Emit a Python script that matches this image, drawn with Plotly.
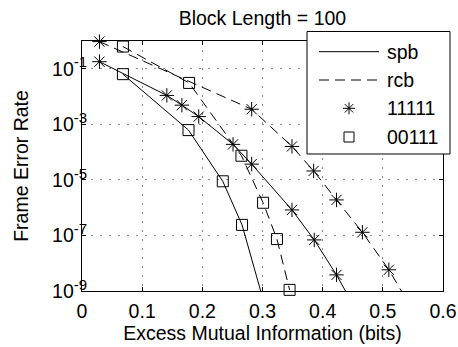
import plotly.graph_objects as go

# Data (x = excess mutual information in bits, y = frame error rate)
spb_11111_x = [0.029, 0.141, 0.166, 0.194, 0.251, 0.282, 0.349, 0.386, 0.423, 0.46]
spb_11111_y = [1.8e-1, 1.1e-2, 4.9e-3, 1.9e-3, 1.9e-4, 3.7e-5, 8.3e-7, 6.9e-8, 3.8e-9, 1.4e-10]

rcb_11111_x = [0.029, 0.282, 0.349, 0.385, 0.423, 0.466, 0.510, 0.55]
rcb_11111_y = [9.5e-1, 3.5e-3, 1.6e-4, 2.1e-5, 1.9e-6, 1.3e-7, 5.8e-9, 2.0e-10]

spb_00111_x = [0.068, 0.177, 0.234, 0.266, 0.30]
spb_00111_y = [6.4e-2, 6.2e-4, 8.9e-6, 2.4e-7, 5.9e-10]

rcb_00111_x = [0.068, 0.178, 0.265, 0.301, 0.324, 0.345]
rcb_00111_y = [6.3e-1, 3.1e-2, 7.4e-5, 1.5e-6, 7.4e-8, 1.1e-9]

x_ticks = [0, 0.1, 0.2, 0.3, 0.4, 0.5, 0.6]
x_tick_labels = ["0", "0.1", "0.2", "0.3", "0.4", "0.5", "0.6"]
y_ticks = [1e-1, 1e-3, 1e-5, 1e-7, 1e-9]
y_tick_exponents = ["-1", "-3", "-5", "-7", "-9"]

legend_labels = ["spb", "rcb", "11111", "00111"]

Y_MIN = 1e-9
FONT = "Liberation Sans, Arial, Helvetica, sans-serif"
FS = 19.5
DASH = "10px,6px"

W, H = 458, 347
PL, PR, PT, PB = 82, 443, 41, 291  # plot area in pixels


def px(xp):
    return (xp - PL) / (PR - PL)


def py(yp):
    return (PB - yp) / (PB - PT)


y_tick_labels = ["10<sup><span style='font-size:15px'>%s</span></sup>" % e for e in y_tick_exponents]

series = [
    (spb_11111_x, spb_11111_y, "solid", "asterisk-open", 12),
    (rcb_11111_x, rcb_11111_y, DASH, "asterisk-open", 12),
    (spb_00111_x, spb_00111_y, "solid", "square-open", 11),
    (rcb_00111_x, rcb_00111_y, DASH, "square-open", 11),
]

fig = go.Figure()
for xs, ys, dash, sym, size in series:
    fig.add_trace(go.Scatter(x=xs, y=ys, mode="lines",
                             line=dict(color="black", width=1, dash=dash),
                             showlegend=False, hoverinfo="skip"))
    vis = [(a, b) for a, b in zip(xs, ys) if b >= Y_MIN * 0.9]
    fig.add_trace(go.Scatter(x=[a for a, _ in vis], y=[b for _, b in vis], mode="markers",
                             marker=dict(symbol=sym, size=size, color="black",
                                         line=dict(color="black", width=1)),
                             cliponaxis=False, showlegend=False))

# ---- legend box (MATLAB style) built from shapes + annotations ----
box_l, box_r, box_t, box_b = 307, 450, 31.5, 154
row_y = [51.7, 80, 108.3, 137]
line_x0, line_x1, glyph_x, text_x = 319, 379, 349, 385

shapes = [dict(type="rect", xref="paper", yref="paper", layer="above",
               x0=px(box_l), x1=px(box_r), y0=py(box_b), y1=py(box_t),
               fillcolor="white", line=dict(color="black", width=1))]
shapes.append(dict(type="line", xref="paper", yref="paper", layer="above",
                   x0=px(line_x0), x1=px(line_x1), y0=py(row_y[0]), y1=py(row_y[0]),
                   line=dict(color="black", width=1)))
shapes.append(dict(type="line", xref="paper", yref="paper", layer="above",
                   x0=px(line_x0), x1=px(line_x1), y0=py(row_y[1]), y1=py(row_y[1]),
                   line=dict(color="black", width=1, dash=DASH)))
star_path = "M-6,0L6,0M0,-6L0,6M-4.2,-4.2L4.2,4.2M-4.2,4.2L4.2,-4.2"
shapes.append(dict(type="path", xref="paper", yref="paper", layer="above",
                   xsizemode="pixel", ysizemode="pixel",
                   xanchor=px(glyph_x), yanchor=py(row_y[2]), path=star_path,
                   line=dict(color="black", width=1)))
shapes.append(dict(type="rect", xref="paper", yref="paper", layer="above",
                   xsizemode="pixel", ysizemode="pixel",
                   xanchor=px(glyph_x), yanchor=py(row_y[3]),
                   x0=-5, x1=5, y0=-5, y1=5,
                   line=dict(color="black", width=1)))

annotations = []
for lab, yy in zip(legend_labels, row_y):
    annotations.append(dict(text=lab, xref="paper", yref="paper", showarrow=False,
                            x=px(text_x), y=py(yy), xanchor="left", yanchor="middle",
                            font=dict(family=FONT, size=FS, color="black")))

fig.update_layout(
    template="none",
    width=W, height=H, autosize=False,
    margin=dict(l=PL, r=W - PR, t=PT, b=H - PB, pad=0),
    paper_bgcolor="white", plot_bgcolor="white",
    font=dict(family=FONT, size=FS, color="black"),
    title=dict(text="Block Length = 100", x=0.573, xanchor="center",
               y=1 - 18 / H, yanchor="middle", font=dict(size=FS)),
    showlegend=False,
    shapes=shapes,
    annotations=annotations,
)
fig.update_xaxes(range=[0, 0.6], tickvals=x_ticks, ticktext=x_tick_labels,
                 automargin=False,
                 tickfont=dict(size=FS), ticklabelstandoff=3,
                 showgrid=True, gridcolor="#888", griddash="2px,7px", gridwidth=1,
                 showline=True, linecolor="black", linewidth=1, mirror="ticks",
                 ticks="inside", ticklen=4, tickcolor="black", zeroline=False,
                 title=dict(text="Excess Mutual Information (bits)", standoff=0,
                            font=dict(size=FS)))
fig.update_yaxes(type="log", range=[-9, 0], tickvals=y_ticks, ticktext=y_tick_labels,
                 automargin=False,
                 tickfont=dict(size=FS), ticklabelstandoff=-10,
                 showgrid=True, gridcolor="#888", griddash="2px,7px", gridwidth=1,
                 showline=True, linecolor="black", linewidth=1, mirror="ticks",
                 ticks="inside", ticklen=4, tickcolor="black", zeroline=False,
                 title=dict(text="Frame Error Rate", standoff=18, font=dict(size=FS)))

fig.write_html("out.html")
